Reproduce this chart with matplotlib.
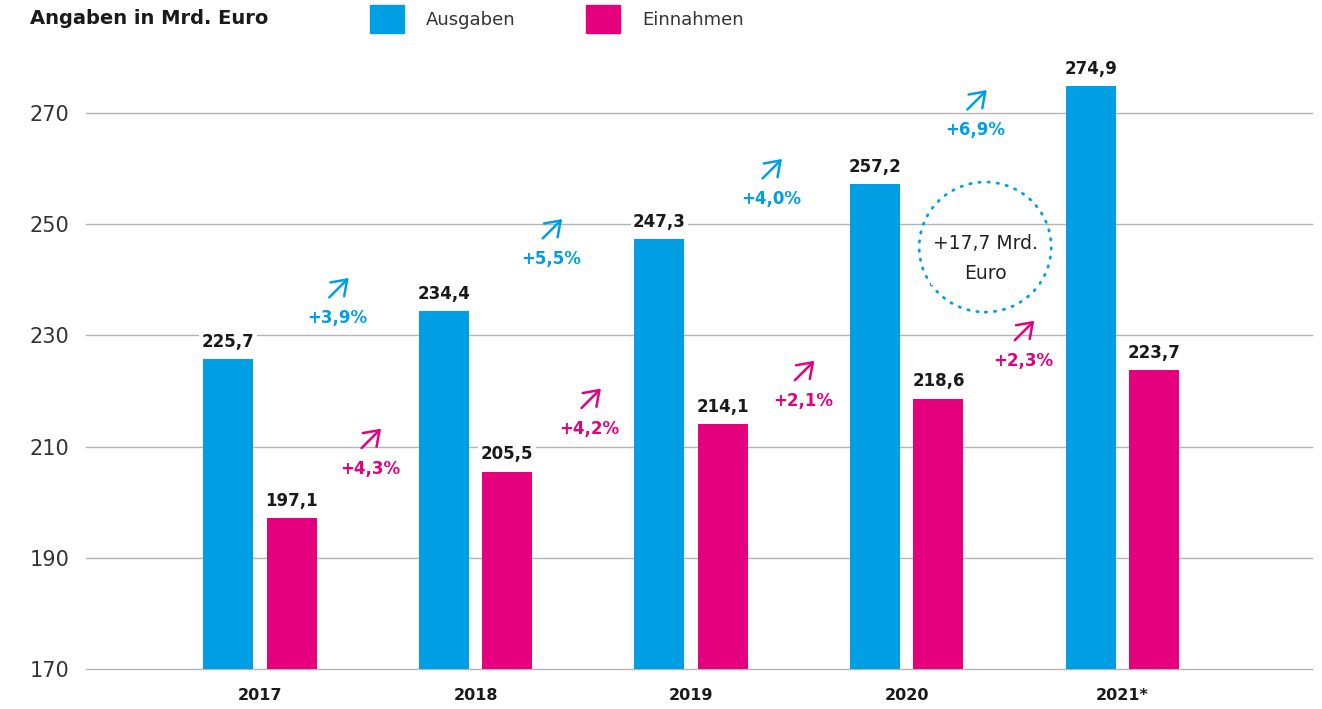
import numpy as np
import matplotlib as mpl
mpl.use('Agg')
import matplotlib.pyplot as plt
from matplotlib.patches import Ellipse, Patch
from matplotlib.transforms import offset_copy

# data (Mrd. Euro)
years = ['2017', '2018', '2019', '2020', '2021*']
ausgaben = [225.7, 234.4, 247.3, 257.2, 274.9]
einnahmen = [197.1, 205.5, 214.1, 218.6, 223.7]
yticks = [170, 190, 210, 230, 250, 270]

# layout of the growth labels (text centre, data coords)
blue_lbl_pos = [(0.36, 233.1), (1.35, 243.7), (2.37, 254.5), (3.32, 266.9)]
pink_lbl_pos = [(0.51, 206.0), (1.53, 213.2), (2.52, 218.2), (3.54, 225.4)]

blue = '#009fe3'
pink = '#e5007d'
txt = '#1a1a1a'

def fmt(v, nd=1):
    return f'{v:.{nd}f}'.replace('.', ',')

fig = plt.figure(figsize=(13.22, 7.09), dpi=100)
ax = fig.add_axes([86/1322, 40/709, (1312-86)/1322, (669-57.5)/709])

x = np.arange(len(years))
w = 0.232
off = 0.147
b1 = ax.bar(x - off, ausgaben, w, color=blue, zorder=3, label='Ausgaben')
b2 = ax.bar(x + off, einnahmen, w, color=pink, zorder=3, label='Einnahmen')

for bars, vals in ((b1, ausgaben), (b2, einnahmen)):
    for r, v in zip(bars, vals):
        ax.annotate(fmt(v), (r.get_x() + r.get_width()/2, v), xytext=(0, 6),
                    textcoords='offset points', ha='center', va='bottom',
                    fontsize=12, fontweight='bold', color=txt, zorder=4,
                    bbox=dict(boxstyle='square,pad=0.15', fc='white', ec='none'))

ax.set_ylim(170, 280)
ax.set_xlim(-0.807, 4.88)
ax.set_yticks(yticks)
ax.set_yticklabels([str(t) for t in yticks], fontsize=15, color='#333333')
ax.set_xticks(x)
ax.set_xticklabels(years, fontsize=11.5, fontweight='bold', color=txt)
ax.tick_params(axis='y', length=0, pad=12)
ax.tick_params(axis='x', length=0, pad=14)
ax.grid(axis='y', color='#b4b4b4', lw=1, zorder=0)
for gl in ax.get_ygridlines():
    gl.set_clip_on(False)
ax.set_axisbelow(True)
for s in ax.spines.values():
    s.set_visible(False)

# growth arrows and percentages
def growth(vals, positions, color):
    for i, (px, py) in enumerate(positions):
        pct = (vals[i+1] - vals[i]) / vals[i] * 100
        ax.text(px, py, '+' + fmt(pct) + '%', ha='center', va='center',
                fontsize=12, fontweight='bold', color=color, zorder=4)
        tail = offset_copy(ax.transData, fig=fig, x=-6, y=15, units='points')
        head = offset_copy(ax.transData, fig=fig, x=8, y=29, units='points')
        ax.annotate('', xy=(px, py), xycoords=head, xytext=(px, py), textcoords=tail,
                    arrowprops=dict(arrowstyle='->,head_length=0.5,head_width=0.35',
                                    color=color, lw=1.8, shrinkA=0, shrinkB=0,
                                    mutation_scale=20))

growth(ausgaben, blue_lbl_pos, blue)
growth(einnahmen, pink_lbl_pos, pink)

# dotted circle with total increase
cx, cy = 3.364, 245.9
ax.add_patch(Ellipse((cx, cy), 0.6125, 23.4, fill=False, ec=blue, lw=2,
                     ls=(0, (0.5, 2.8)), zorder=2, capstyle='round'))
diff = ausgaben[-1] - ausgaben[-2]
ax.text(cx, cy - 2.0, '+' + fmt(diff) + ' Mrd.\nEuro', ha='center', va='center',
        fontsize=13.5, color='#222222', linespacing=1.75, zorder=4,
        bbox=dict(boxstyle='square,pad=0.1', fc='white', ec='none'))

fig.text(30/1322, 1 - 18/709, 'Angaben in Mrd. Euro', ha='left', va='center',
         fontsize=14, fontweight='bold', color=txt)

handles = [Patch(color=blue), Patch(color=pink)]
fig.legend(handles, ['Ausgaben', 'Einnahmen'], loc='center left',
           bbox_to_anchor=(361/1322, 1 - 19/709), ncol=2, frameon=False,
           fontsize=13, handlelength=1.9, handleheight=2.0, handletextpad=1.2,
           columnspacing=3.9, borderpad=0, labelcolor='#333333')

fig.savefig('out.png', dpi=100)
